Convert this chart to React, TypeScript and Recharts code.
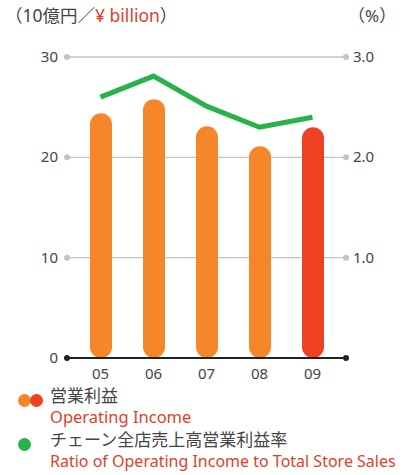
import React from "react";
import {
  ComposedChart,
  Bar,
  Line,
  Cell,
  XAxis,
  YAxis,
  CartesianGrid,
} from "recharts";

const years = ["05", "06", "07", "08", "09"];
const operatingIncome = [24.4, 25.8, 23.1, 21.1, 23.0];
const incomeRatio = [2.6, 2.81, 2.51, 2.3, 2.4];
const leftTicks = [0, 10, 20, 30];
const rightTicks = [0, 1, 2, 3];

const ORANGE = "#f5862a";
const RED = "#ee4023";
const GREEN = "#27b24a";
const TEXT_RED = "#e0402a";
const TEXT = "#444";
const FONT = '"Noto Sans", "Noto Sans CJK JP", sans-serif';

const data = years.map((year, i) => ({
  year,
  income: operatingIncome[i],
  ratio: incomeRatio[i],
}));

const LeftTick = (props: any) => {
  const { x, y, payload } = props;
  const zero = payload.value === 0;
  return (
    <g>
      <circle cx={x} cy={y} r={3} fill={zero ? "#222" : "#c4c4c4"} />
      <text x={x - 9} y={y} dy={5} textAnchor="end" fontSize={15} fill={TEXT} fontFamily={FONT}>
        {payload.value}
      </text>
    </g>
  );
};

const RightTick = (props: any) => {
  const { x, y, payload } = props;
  const zero = payload.value === 0;
  return (
    <g>
      <circle cx={x - 1} cy={y} r={3} fill={zero ? "#222" : "#c4c4c4"} />
      {!zero && (
        <text x={x + 6} y={y} dy={5} textAnchor="start" fontSize={15} fill={TEXT} fontFamily={FONT}>
          {payload.value.toFixed(1)}
        </text>
      )}
    </g>
  );
};

const Dot = ({ color }: { color: string }) => (
  <span
    style={{
      display: "inline-block",
      width: 13,
      height: 13,
      borderRadius: "50%",
      background: color,
      marginRight: -1,
    }}
  />
);

const jp = { color: TEXT, fontSize: 17, lineHeight: "22px" };
const en = { color: TEXT_RED, fontSize: 16, lineHeight: "20px" };

export default function App() {
  return (
    <div style={{ position: "fixed", left: 0, top: 0, width: 407, height: 475, fontFamily: FONT, background: "#fff" }}>
      <div style={{ position: "absolute", left: 5, top: 2, fontSize: 17.5, color: TEXT }}>
        （10億円／<span style={{ color: TEXT_RED }}>¥ billion</span>）
      </div>
      <div style={{ position: "absolute", left: 348, top: 2, fontSize: 17, color: TEXT }}>
        （%）
      </div>
      <div style={{ position: "absolute", left: 0, top: 0 }}>
        <ComposedChart
          width={407}
          height={386}
          data={data}
          margin={{ top: 57, right: 0, left: 0, bottom: 6 }}
        >
          <CartesianGrid yAxisId="left" vertical={false} stroke="#c4c4c4" strokeWidth={1.3} />
          <XAxis
            dataKey="year"
            height={22}
            padding={{ left: 7, right: 8 }}
            axisLine={{ stroke: "#222", strokeWidth: 2 }}
            tickLine={false}
            tick={{ fontSize: 15, fill: TEXT, fontFamily: FONT }}
            tickMargin={4}
          />
          <YAxis
            yAxisId="left"
            width={67}
            domain={[0, 30]}
            ticks={leftTicks}
            axisLine={false}
            tickLine={false}
            tickSize={0}
            tickMargin={0}
            tick={<LeftTick />}
          />
          <YAxis
            yAxisId="right"
            orientation="right"
            width={60}
            domain={[0, 3]}
            ticks={rightTicks}
            axisLine={false}
            tickLine={false}
            tickSize={0}
            tickMargin={0}
            tick={<RightTick />}
          />
          <Bar
            yAxisId="left"
            dataKey="income"
            barSize={22}
            radius={11}
            isAnimationActive={false}
          >
            {data.map((entry, i) => (
              <Cell key={`cell-${i}`} fill={i === data.length - 1 ? RED : ORANGE} />
            ))}
          </Bar>
          <Line
            yAxisId="right"
            dataKey="ratio"
            type="linear"
            stroke={GREEN}
            strokeWidth={5}
            dot={false}
            isAnimationActive={false}
          />
        </ComposedChart>
      </div>
      <div style={{ position: "absolute", left: 18, top: 385 }}>
        <div style={{ display: "flex" }}>
          <div style={{ width: 32, paddingTop: 5 }}>
            <Dot color={ORANGE} />
            <Dot color={RED} />
          </div>
          <div>
            <div style={jp}>営業利益</div>
            <div style={{ ...en, fontSize: 16.5 }}>Operating Income</div>
          </div>
        </div>
        <div style={{ display: "flex", marginTop: 2 }}>
          <div style={{ width: 32, paddingTop: 5 }}>
            <Dot color={GREEN} />
          </div>
          <div>
            <div style={jp}>チェーン全店売上高営業利益率</div>
            <div style={en}>Ratio of Operating Income to Total Store Sales</div>
          </div>
        </div>
      </div>
    </div>
  );
}
